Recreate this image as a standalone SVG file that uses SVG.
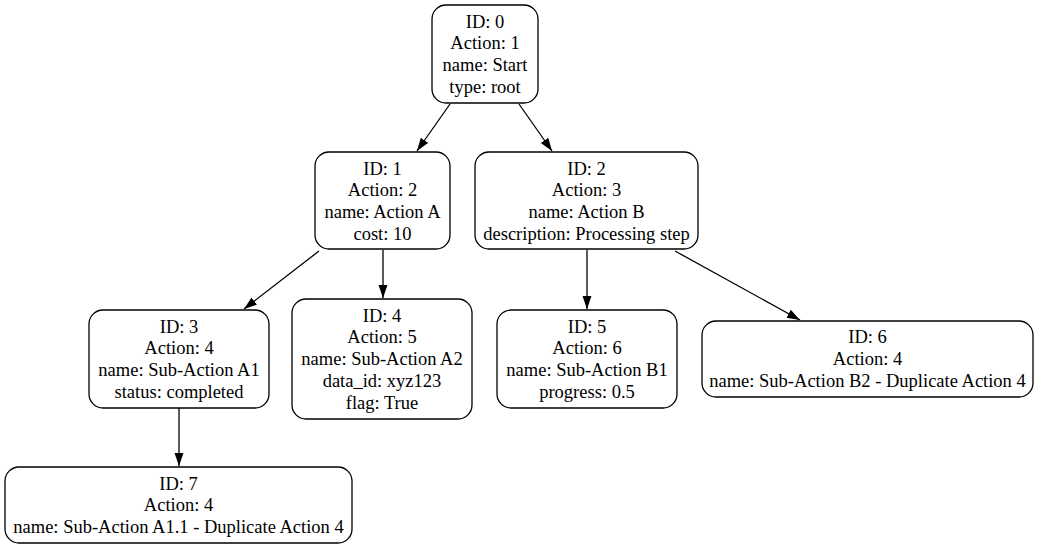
<svg xmlns="http://www.w3.org/2000/svg" width="1040" height="549" viewBox="0 0 1040 549">
<style>
.n rect{fill:#fff;stroke:#000;stroke-width:1.3}
.n text{font-family:'Liberation Serif','Times New Roman','DejaVu Serif',serif;font-size:18.5px;text-anchor:middle;fill:#000}
#edges path{fill:none;stroke:#000;stroke-width:1.3}
</style>
<defs>
<marker id="ah" markerUnits="userSpaceOnUse" markerWidth="14" markerHeight="10" refX="13" refY="4.5" orient="auto">
<path d="M0,0 L13,4.5 L0,9 z" fill="#000"/>
</marker>
</defs>
<rect width="1040" height="549" fill="#fff"/>
<g id="edges">
<path d="M450,104 L417,151" marker-end="url(#ah)"/>
<path d="M519,104 L552,151" marker-end="url(#ah)"/>
<path d="M319,251 L244,309" marker-end="url(#ah)"/>
<path d="M383,250 L383,298" marker-end="url(#ah)"/>
<path d="M587,250 L587,309" marker-end="url(#ah)"/>
<path d="M675,251 L800,320" marker-end="url(#ah)"/>
<path d="M179,408 L179,466" marker-end="url(#ah)"/>
</g>
<g id="node0" class="n" font-family="Liberation Serif, serif">
<rect x="432" y="5" width="106" height="98" rx="14"/>
<text x="485" y="27.5">ID: 0</text>
<text x="485" y="49.2">Action: 1</text>
<text x="485" y="70.9">name: Start</text>
<text x="485" y="92.6">type: root</text>
</g>
<g id="node1" class="n">
<rect x="315" y="152" width="135" height="97" rx="14"/>
<text x="382.5" y="174.5">ID: 1</text>
<text x="382.5" y="196.2">Action: 2</text>
<text x="382.5" y="217.9">name: Action A</text>
<text x="382.5" y="239.6">cost: 10</text>
</g>
<g id="node2" class="n">
<rect x="475" y="152" width="223" height="97" rx="14"/>
<text x="586.5" y="174.5">ID: 2</text>
<text x="586.5" y="196.2">Action: 3</text>
<text x="586.5" y="217.9">name: Action B</text>
<text x="586.5" y="239.6">description: Processing step</text>
</g>
<g id="node3" class="n">
<rect x="89" y="310" width="180" height="98" rx="14"/>
<text x="179" y="332.5">ID: 3</text>
<text x="179" y="354.2">Action: 4</text>
<text x="179" y="375.9">name: Sub-Action A1</text>
<text x="179" y="397.6">status: completed</text>
</g>
<g id="node4" class="n">
<rect x="292" y="299" width="180" height="120" rx="14"/>
<text x="382" y="321.7">ID: 4</text>
<text x="382" y="343.4">Action: 5</text>
<text x="382" y="365.1">name: Sub-Action A2</text>
<text x="382" y="386.8">data_id: xyz123</text>
<text x="382" y="408.5">flag: True</text>
</g>
<g id="node5" class="n">
<rect x="497" y="310" width="180" height="98" rx="14"/>
<text x="587" y="332.5">ID: 5</text>
<text x="587" y="354.2">Action: 6</text>
<text x="587" y="375.9">name: Sub-Action B1</text>
<text x="587" y="397.6">progress: 0.5</text>
</g>
<g id="node6" class="n">
<rect x="702" y="321" width="331" height="76" rx="14"/>
<text x="867.5" y="343.3">ID: 6</text>
<text x="867.5" y="365">Action: 4</text>
<text x="867.5" y="386.7">name: Sub-Action B2 - Duplicate Action 4</text>
</g>
<g id="node7" class="n">
<rect x="5" y="467" width="347" height="76" rx="14"/>
<text x="178.5" y="489.5">ID: 7</text>
<text x="178.5" y="511.2">Action: 4</text>
<text x="178.5" y="532.9">name: Sub-Action A1.1 - Duplicate Action 4</text>
</g>
</svg>
